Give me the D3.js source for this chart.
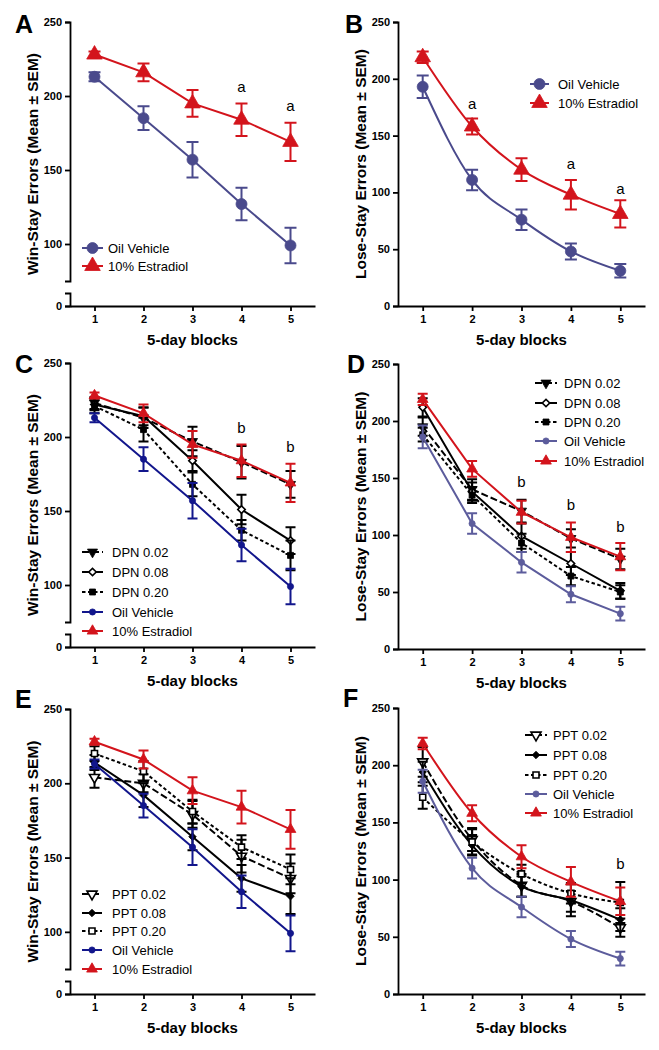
<!DOCTYPE html>
<html>
<head>
<meta charset="utf-8">
<script src="https://cdn.jsdelivr.net/npm/d3@7"></script>
<style>
  body { margin: 0; background: #fff; }
  svg { display: block; font-family: "Liberation Sans", Arial, sans-serif; }
</style>
</head>
<body>
<div id="fig"></div>
<script>
const blocks = [1, 2, 3, 4, 5];

// win-stay errors (A, C, E)
const oilWin = [213, 185, 157, 127, 99];
const oilWinSem = [3, 8, 12, 11, 12];
const e2Win = [228, 216, 195, 184, 169];
const e2WinSem = [2, 6, 9, 11, 13];
const dpn002Win = [223, 213, 197, 183, 168];
const dpn002WinSem = [4, 7, 10, 11, 9];
const dpn008Win = [222, 214, 184, 151, 130];
const dpn008WinSem = [4, 6, 7, 10, 9];
const dpn020Win = [221, 205, 168, 137, 120];
const dpn020WinSem = [5, 8, 8, 7, 10];
const ppt002Win = [204, 200, 179, 151, 136];
const ppt002WinSem = [7, 6, 9, 11, 10];
const ppt008Win = [214, 192, 164, 136, 124];
const ppt008WinSem = [5, 8, 9, 9, 12];
const ppt020Win = [220, 208, 181, 157, 142];
const ppt020WinSem = [5, 7, 8, 8, 10];

// lose-stay errors (B, D, F)
const oilLose = [193, 111, 76, 48, 31];
const oilLoseSem = [10, 9, 9, 7, 6];
const oilLoseDF = [186, 110, 76, 48, 31];
const e2Lose = [219, 158, 120, 98, 81];
const e2LoseSem = [5, 7, 10, 13, 12];
const dpn002Lose = [195, 140, 121, 97, 79];
const dpn002LoseSem = [8, 9, 10, 8, 9];
const dpn008Lose = [212, 138, 99, 75, 51];
const dpn008LoseSem = [8, 8, 11, 10, 7];
const dpn020Lose = [188, 135, 93, 64, 50];
const dpn020LoseSem = [6, 7, 8, 8, 6];
const ppt002Lose = [203, 135, 95, 81, 58];
const ppt002LoseSem = [13, 10, 10, 9, 8];
const ppt008Lose = [194, 130, 94, 82, 65];
const ppt008LoseSem = [9, 9, 9, 14, 10];
const ppt020Lose = [172, 133, 105, 88, 80];
const ppt020LoseSem = [10, 11, 8, 9, 18];

const RED = "#d3141c";
const PURPLE = "#4a4a8c";
const NAVY = "#12168c";
const SLATE = "#5c5c9c";
const LONG = "7,3";
const SHORT = "3.5,2.5";

const svg = d3.select("#fig").append("svg").attr("width", 659).attr("height", 1050);

function series(name, mean, sem, color, shape, opts = {}) {
  return { name, mean, sem, color, shape, dash: opts.dash || null, open: !!opts.open };
}

const panels = [
  {
    letter: "A", lx: 15, ly: 33, left: 70, right: 315, top: 22, bottom: 306, broken: true, big: true,
    title: "Win-Stay Errors (Mean ± SEM)",
    legend: { x0: 82, x1: 103, tx: 108, rows: [248, 266] },
    notes: [{ b: 4, v: 203, t: "a" }, { b: 5, v: 190, t: "a" }],
    series: [
      series("Oil Vehicle", oilWin, oilWinSem, PURPLE, "circle"),
      series("10% Estradiol", e2Win, e2WinSem, RED, "triangle")
    ]
  },
  {
    letter: "B", lx: 345, ly: 33, left: 398, right: 645, top: 22, bottom: 306, big: true, curve: true,
    title: "Lose-Stay Errors (Mean ± SEM)",
    legend: { x0: 530, x1: 549, tx: 558, rows: [84, 103] },
    notes: [{ b: 2, v: 173, t: "a" }, { b: 4, v: 121, t: "a" }, { b: 5, v: 99, t: "a" }],
    series: [
      series("Oil Vehicle", oilLose, oilLoseSem, PURPLE, "circle"),
      series("10% Estradiol", e2Lose, e2LoseSem, RED, "triangle")
    ]
  },
  {
    letter: "C", lx: 15, ly: 373, left: 70, right: 315, top: 363, bottom: 647, broken: true,
    title: "Win-Stay Errors (Mean ± SEM)",
    legend: { x0: 82, x1: 103, tx: 112, rows: [552, 572, 592, 612, 631] },
    notes: [{ b: 4, v: 203, t: "b" }, { b: 5, v: 190, t: "b" }],
    series: [
      series("DPN 0.02", dpn002Win, dpn002WinSem, "#000", "tridown", { dash: LONG }),
      series("DPN 0.08", dpn008Win, dpn008WinSem, "#000", "diamond", { open: true }),
      series("DPN 0.20", dpn020Win, dpn020WinSem, "#000", "square", { dash: SHORT }),
      series("Oil Vehicle", oilWin, oilWinSem, NAVY, "circle"),
      series("10% Estradiol", e2Win, e2WinSem, RED, "triangle")
    ]
  },
  {
    letter: "D", lx: 347, ly: 373, left: 398, right: 645, top: 364, bottom: 649,
    title: "Lose-Stay Errors (Mean ± SEM)",
    legend: { x0: 535, x1: 557, tx: 564, rows: [383, 403, 422, 441, 461] },
    notes: [{ b: 3, v: 142, t: "b" }, { b: 4, v: 122, t: "b" }, { b: 5, v: 103, t: "b" }],
    series: [
      series("DPN 0.02", dpn002Lose, dpn002LoseSem, "#000", "tridown", { dash: LONG }),
      series("DPN 0.08", dpn008Lose, dpn008LoseSem, "#000", "diamond", { open: true }),
      series("DPN 0.20", dpn020Lose, dpn020LoseSem, "#000", "square", { dash: SHORT }),
      series("Oil Vehicle", oilLoseDF, oilLoseSem, SLATE, "circle"),
      series("10% Estradiol", e2Lose, e2LoseSem, RED, "triangle")
    ]
  },
  {
    letter: "E", lx: 15, ly: 708, left: 70, right: 315, top: 709, bottom: 994, broken: true,
    title: "Win-Stay Errors (Mean ± SEM)",
    legend: { x0: 82, x1: 102, tx: 112, rows: [894, 913, 931, 950, 969] },
    notes: [],
    series: [
      series("PPT 0.02", ppt002Win, ppt002WinSem, "#000", "tridown", { dash: LONG, open: true }),
      series("PPT 0.08", ppt008Win, ppt008WinSem, "#000", "diamond"),
      series("PPT 0.20", ppt020Win, ppt020WinSem, "#000", "square", { dash: SHORT, open: true }),
      series("Oil Vehicle", oilWin, oilWinSem, NAVY, "circle"),
      series("10% Estradiol", e2Win, e2WinSem, RED, "triangle")
    ]
  },
  {
    letter: "F", lx: 343, ly: 707, left: 398, right: 645, top: 708, bottom: 994, curve: true,
    title: "Lose-Stay Errors (Mean ± SEM)",
    legend: { x0: 525, x1: 547, tx: 553, rows: [735, 755, 775, 794, 813] },
    notes: [{ b: 5, v: 109, t: "b" }],
    series: [
      series("PPT 0.02", ppt002Lose, ppt002LoseSem, "#000", "tridown", { dash: LONG, open: true }),
      series("PPT 0.08", ppt008Lose, ppt008LoseSem, "#000", "diamond"),
      series("PPT 0.20", ppt020Lose, ppt020LoseSem, "#000", "square", { dash: SHORT, open: true }),
      series("Oil Vehicle", oilLoseDF, oilLoseSem, SLATE, "circle"),
      series("10% Estradiol", e2Lose, e2LoseSem, RED, "triangle")
    ]
  }
];

function markerPath(shape, big) {
  const sizes = big
    ? { circle: 95, triangle: 105, tridown: 105, square: 64, diamond: 60 }
    : { circle: 30, triangle: 50, tridown: 44, square: 36, diamond: 28 };
  const type = { circle: d3.symbolCircle, triangle: d3.symbolTriangle, tridown: d3.symbolTriangle,
    square: d3.symbolSquare, diamond: d3.symbolSquare }[shape];
  return d3.symbol(type, sizes[shape])();
}

function markerRotation(shape) {
  if (shape === "tridown") return 180;
  if (shape === "diamond") return 45;
  return 0;
}

function drawMarker(g, s, cx, cy, big) {
  g.append("path")
    .attr("d", markerPath(s.shape, big))
    .attr("transform", `translate(${cx},${cy}) rotate(${markerRotation(s.shape)})`)
    .attr("fill", s.open ? "#fff" : s.color)
    .attr("stroke", s.color)
    .attr("stroke-width", s.open ? 1.6 : 0.8);
}

function styleAxis(sel) {
  sel.attr("font-family", null).attr("font-size", null);
  sel.select(".domain").attr("stroke", "#000").attr("stroke-width", 1.8);
  sel.selectAll(".tick line").attr("stroke", "#000").attr("stroke-width", 1.8);
  sel.selectAll(".tick text").attr("fill", "#000")
    .style("font-size", "11px").style("font-weight", "bold");
}

function drawPanel(p) {
  const g = svg.append("g");
  const x = d3.scaleLinear().domain([0.5, 5.5]).range([p.left, p.right]);
  const y = p.broken
    ? d3.scaleLinear().domain([75, 250]).range([p.bottom - 25, p.top])
    : d3.scaleLinear().domain([0, 250]).range([p.bottom, p.top]);

  // axes
  g.append("g")
    .attr("transform", `translate(${p.left},0)`)
    .call(d3.axisLeft(y)
      .tickValues(p.broken ? [100, 150, 200, 250] : [0, 50, 100, 150, 200, 250])
      .tickSize(5).tickSizeOuter(5).tickPadding(3))
    .call(styleAxis);

  if (p.broken) {
    const yLow = d3.scaleLinear().domain([0, 10]).range([p.bottom, p.bottom - 13]);
    g.append("g")
      .attr("transform", `translate(${p.left},0)`)
      .call(d3.axisLeft(yLow).tickValues([0]).tickSize(5).tickSizeOuter(5).tickPadding(3))
      .call(styleAxis);
  }

  g.append("g")
    .attr("transform", `translate(0,${p.bottom})`)
    .call(d3.axisBottom(x).tickValues(blocks).tickFormat(d3.format("d"))
      .tickSize(5).tickSizeOuter(0).tickPadding(4))
    .call(styleAxis);

  // titles
  g.append("text")
    .attr("x", (p.left + p.right) / 2).attr("y", p.bottom + 38.5)
    .attr("text-anchor", "middle")
    .style("font-size", "15px").style("font-weight", "bold")
    .text("5-day blocks");

  g.append("text")
    .attr("transform", `translate(${p.left - 37},${(p.top + p.bottom) / 2}) rotate(-90)`)
    .attr("text-anchor", "middle").attr("dy", "0.35em")
    .style("font-size", "15.5px").style("font-weight", "bold")
    .text(p.title);

  g.append("text")
    .attr("x", p.lx).attr("y", p.ly)
    .style("font-size", "25px").style("font-weight", "bold")
    .text(p.letter);

  // series
  const cap = p.big ? 6 : 5;
  const line = d3.line()
    .x((d, i) => x(blocks[i]))
    .y(d => y(d))
    .curve(p.curve ? d3.curveMonotoneX : d3.curveLinear);

  p.series.forEach(s => {
    const sg = g.append("g");
    sg.append("path")
      .attr("d", line(s.mean))
      .attr("fill", "none")
      .attr("stroke", s.color)
      .attr("stroke-width", 2)
      .attr("stroke-dasharray", s.dash);

    s.mean.forEach((m, i) => {
      const cx = x(blocks[i]);
      const y0 = y(m - s.sem[i]);
      const y1 = y(m + s.sem[i]);
      sg.append("path")
        .attr("d", `M${cx},${y0}V${y1}M${cx - cap},${y0}H${cx + cap}M${cx - cap},${y1}H${cx + cap}`)
        .attr("fill", "none")
        .attr("stroke", s.color)
        .attr("stroke-width", 2);
    });

    s.mean.forEach((m, i) => drawMarker(sg, s, x(blocks[i]), y(m), p.big));
  });

  // significance letters
  p.notes.forEach(n => {
    g.append("text")
      .attr("x", x(n.b)).attr("y", y(n.v))
      .attr("text-anchor", "middle")
      .style("font-size", "15px")
      .text(n.t);
  });

  // legend
  const lg = p.legend;
  p.series.forEach((s, i) => {
    const ry = lg.rows[i];
    g.append("line")
      .attr("x1", lg.x0).attr("x2", lg.x1).attr("y1", ry).attr("y2", ry)
      .attr("stroke", s.color).attr("stroke-width", 2)
      .attr("stroke-dasharray", s.dash);
    drawMarker(g, s, (lg.x0 + lg.x1) / 2, ry, p.big);
    g.append("text")
      .attr("x", lg.tx).attr("y", ry).attr("dy", "0.35em")
      .style("font-size", "13px")
      .text(s.name);
  });
}

panels.forEach(drawPanel);
</script>
</body>
</html>
